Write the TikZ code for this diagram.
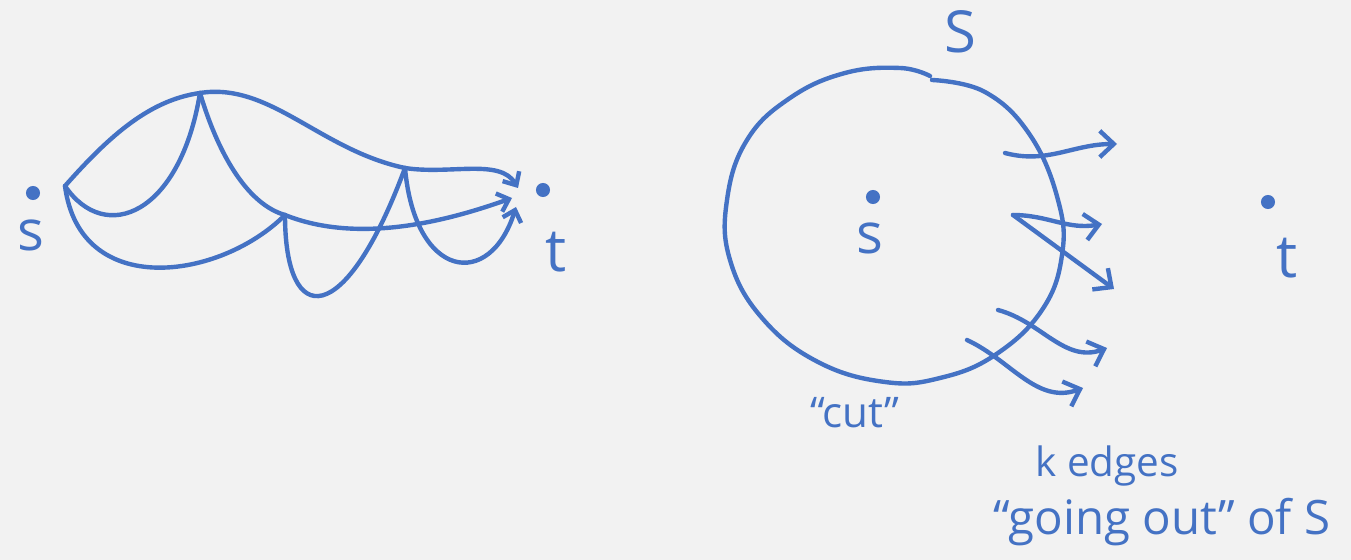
\documentclass[tikz,border=0pt]{standalone}
\usepackage{fontspec}
\setmainfont{Open Sans}
\usetikzlibrary{arrows.meta}
\definecolor{pen}{HTML}{4472C4}
\definecolor{paper}{HTML}{F2F2F2}

\begin{document}
\begin{tikzpicture}[
  x=0.02cm,y=-0.02cm,
  line width=2.5pt,line cap=round,line join=round,
  edge/.style={draw=pen},
  tip/.style={edge,-{Straight Barb[length=6pt,width=11pt]}},
  bigtip/.style={edge,-{Straight Barb[length=8pt,width=15pt]}},
  dot/.style={circle,fill=pen,inner sep=0pt,minimum size=8pt},
  lbl/.style={text=pen,inner sep=0pt}
]
  \fill[paper] (0,0) rectangle (1351,560);
  \useasboundingbox (0,0) rectangle (1351,560);

  \node[dot] (s1) at (33,193) {};
  \node[lbl,font=\fontsize{32}{32}\selectfont] (s1lbl) at (31,235) {s};
  \node[dot] (t1) at (543,190) {};
  \node[lbl,font=\fontsize{34}{34}\selectfont] (t1lbl) at (556,252) {t};

  \coordinate (a) at (65,186);
  \coordinate (b) at (200,93);
  \coordinate (c) at (285,215);
  \coordinate (d) at (405,168);
  \coordinate (e1) at (518,188);
  \coordinate (e2) at (512,198);
  \coordinate (e3) at (516,207);

  \draw[edge] (a) .. controls (110,135) and (150,100) .. (b);
  \draw[edge] (b) .. controls (270,82) and (320,150) .. (d);
  \draw[tip] (d) .. controls (450,175) and (500,158) .. (e1);
  \draw[edge] (a) .. controls (80,300) and (220,280) .. (c);
  \draw[edge] (a) .. controls (105,245) and (180,215) .. (b);
  \draw[edge] (b) .. controls (220,160) and (250,205) .. (c);
  \draw[tip] (c) .. controls (360,245) and (450,220) .. (e2);
  \draw[edge] (c) .. controls (285,330) and (345,330) .. (d);
  \draw[tip] (d) .. controls (415,280) and (490,290) .. (e3);

  \node[dot] (s2) at (873,197) {};
  \node[lbl,font=\fontsize{32}{32}\selectfont] (s2lbl) at (870,238) {s};
  \node[dot] (t2) at (1268,202) {};
  \node[lbl,font=\fontsize{34}{34}\selectfont] (t2lbl) at (1287,258) {t};
  \node[lbl,font=\fontsize{33}{33}\selectfont] (setS) at (960,32) {S};

  \draw[edge] plot[smooth,tension=0.7] coordinates {(932,80) (985,92) (1030,135)
    (1058,200) (1062,255) (1042,310) (995,355) (940,378) (885,382) (818,362)
    (762,318) (730,260) (727,200) (747,140) (790,98) (845,73) (900,68) (930,76)};

  \coordinate (o1) at (1005,153);
  \coordinate (o2) at (1013,215);
  \coordinate (o4) at (998,310);
  \coordinate (o5) at (967,340);
  \coordinate (h1) at (1117,144);
  \coordinate (h2) at (1102,224);
  \coordinate (h3) at (1114,289);
  \coordinate (h4) at (1107,348);
  \coordinate (h5) at (1083,388);

  \draw[bigtip] (o1) to[out=-15,in=180] (h1);
  \draw[bigtip] (o2) to[out=0,in=190] (h2);
  \draw[bigtip] (o2) -- (h3);
  \draw[bigtip] (o4) to[out=-15,in=200] (h4);
  \draw[bigtip] (o5) to[out=-25,in=200] (h5);

  \node[lbl,font=\fontsize{24}{24}\selectfont] (cut) at (855,413) {“cut”};
  \node[lbl,font=\fontsize{23}{23}\selectfont] (kedges) at (1107,466) {k edges};
  \node[lbl,font=\fontsize{27}{27}\selectfont] (goingout) at (1162,522) {“going out” of S};
\end{tikzpicture}
\end{document}
